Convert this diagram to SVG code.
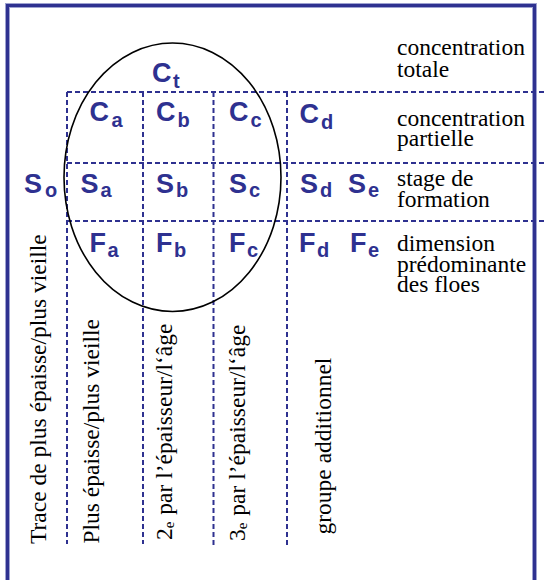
<svg xmlns="http://www.w3.org/2000/svg" width="544" height="580" viewBox="0 0 544 580">
<style>
.sym{font-family:"Liberation Sans",Arial,sans-serif;font-weight:bold;font-size:27px;fill:#2e3190}
.sub{font-size:20px}
.lbl{font-family:"Liberation Serif","Times New Roman",serif;font-size:23.5px;fill:#000}
.vsub{font-size:15px}
.dash{stroke:#2e3190;stroke-width:2;stroke-dasharray:5 3;fill:none}
</style>
<rect x="0" y="0" width="544" height="580" fill="#fff"/>
<g id="frame">
<rect x="7.5" y="5.5" width="527" height="600" fill="none" stroke="#9ea2d0" stroke-width="5"/>
<rect x="7.5" y="5.5" width="527" height="600" fill="none" stroke="#2e3190" stroke-width="3"/>
</g>
<g id="connectors">
<line class="dash" x1="67" y1="92" x2="544" y2="92"/>
<line class="dash" x1="67" y1="163" x2="544" y2="163"/>
<line class="dash" x1="67" y1="221" x2="544" y2="221"/>
<line class="dash" x1="67" y1="92" x2="67" y2="544"/>
<line class="dash" x1="143" y1="92" x2="143" y2="544"/>
<line class="dash" x1="213.5" y1="92" x2="213.5" y2="547"/>
<line class="dash" x1="287" y1="92" x2="287" y2="547"/>
<ellipse cx="172.5" cy="177.25" rx="108.5" ry="134.25" fill="none" stroke="#000" stroke-width="1.6"/>
</g>
<g id="Ct"><text class="sym" x="152" y="82">C<tspan class="sub" dx="1.5" dy="6">t</tspan></text></g>
<g id="Ca"><text class="sym" x="89.5" y="121">C<tspan class="sub" dx="2.5" dy="6">a</tspan></text></g>
<g id="Cb"><text class="sym" x="156" y="121">C<tspan class="sub" dx="2" dy="6">b</tspan></text></g>
<g id="Cc"><text class="sym" x="229" y="121">C<tspan class="sub" dx="2" dy="6">c</tspan></text></g>
<g id="Cd"><text class="sym" x="299.5" y="123">C<tspan class="sub" dx="2" dy="6">d</tspan></text></g>
<g id="So"><text class="sym" x="24" y="192.5">S<tspan class="sub" dx="3" dy="4.5">o</tspan></text></g>
<g id="Sa"><text class="sym" x="80.5" y="192.5">S<tspan class="sub" dx="2" dy="4.5">a</tspan></text></g>
<g id="Sb"><text class="sym" x="156" y="192.5">S<tspan class="sub" dx="2" dy="4.5">b</tspan></text></g>
<g id="Sc"><text class="sym" x="229" y="192.5">S<tspan class="sub" dx="2" dy="4.5">c</tspan></text></g>
<g id="Sd"><text class="sym" x="300" y="192.5">S<tspan class="sub" dx="2" dy="4.5">d</tspan></text></g>
<g id="Se"><text class="sym" x="348" y="192.5">S<tspan class="sub" dx="2" dy="4.5">e</tspan></text></g>
<g id="Fa"><text class="sym" x="89.5" y="251.5">F<tspan class="sub" dx="1.5" dy="5">a</tspan></text></g>
<g id="Fb"><text class="sym" x="156" y="251.5">F<tspan class="sub" dx="1.5" dy="5">b</tspan></text></g>
<g id="Fc"><text class="sym" x="229" y="251.5">F<tspan class="sub" dx="1.5" dy="5">c</tspan></text></g>
<g id="Fd"><text class="sym" x="299" y="251.5">F<tspan class="sub" dx="1.5" dy="5">d</tspan></text></g>
<g id="Fe"><text class="sym" x="350" y="251.5">F<tspan class="sub" dx="1.5" dy="5">e</tspan></text></g>
<g id="label-total"><text class="lbl" x="397" y="55">concentration<tspan x="397" y="77">totale</tspan></text></g>
<g id="label-partielle"><text class="lbl" x="397" y="125.5">concentration<tspan x="397" y="146">partielle</tspan></text></g>
<g id="label-stage"><text class="lbl" x="397" y="185.5">stage de<tspan x="397" y="206.5">formation</tspan></text></g>
<g id="label-dimension"><text class="lbl" x="397" y="250.5">dimension<tspan x="397" y="271.5">prédominante</tspan><tspan x="397" y="291.5">des floes</tspan></text></g>
<g id="col-o"><text class="lbl" transform="translate(46,544) rotate(-90)">Trace de plus épaisse/plus vieille</text></g>
<g id="col-a"><text class="lbl" transform="translate(99,543.5) rotate(-90)">Plus épaisse/plus vieille</text></g>
<g id="col-b"><text class="lbl" transform="translate(171.5,540) rotate(-90)">2<tspan class="vsub" dy="2">e</tspan><tspan dy="-2" dx="1"> par l’épaisseur/l‘âge</tspan></text></g>
<g id="col-c"><text class="lbl" transform="translate(245,541) rotate(-90)">3<tspan class="vsub" dy="2">e</tspan><tspan dy="-2" dx="1"> par l’épaisseur/l‘âge</tspan></text></g>
<g id="col-d"><text class="lbl" transform="translate(330.5,534.5) rotate(-90)">groupe additionnel</text></g>
</svg>
